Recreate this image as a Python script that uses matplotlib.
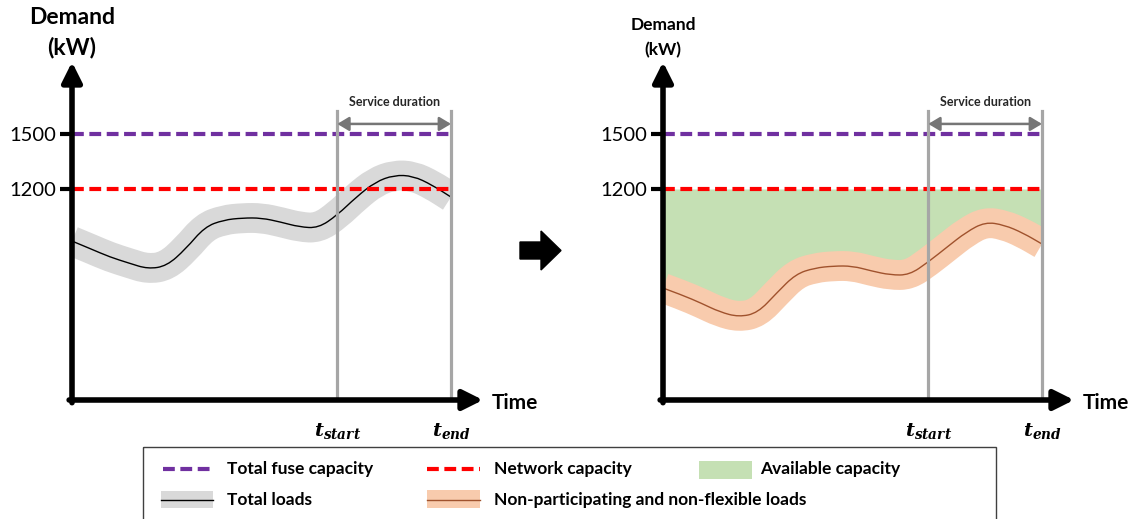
import numpy as np
import matplotlib as mpl
import matplotlib.pyplot as plt
from matplotlib.transforms import Affine2D
from matplotlib.lines import Line2D
from matplotlib.path import Path
from matplotlib.patches import Rectangle, FancyArrow, PathPatch

mpl.rcParams['font.family'] = ['Lato', 'DejaVu Sans']
mpl.rcParams['mathtext.fontset'] = 'custom'
mpl.rcParams['mathtext.it'] = 'DejaVu Serif:italic:bold'
mpl.rcParams['mathtext.rm'] = 'DejaVu Serif:bold'
mpl.rcParams['lines.scale_dashes'] = False

# ---- data ----
time = [0, 0.5, 1, 1.5, 2, 2.5, 3, 3.5, 4, 4.5, 5,
        5.5, 6, 6.5, 7, 7.5, 8, 8.5, 9, 9.5, 10]
total_loads = [916, 873, 829, 796, 764, 780, 873, 993, 1031, 1042, 1042,
               1020, 993, 987, 1058, 1156, 1238, 1276, 1271, 1222, 1156]
nonflex_loads = [660, 622, 578, 529, 502, 524, 633, 736, 769, 780, 780,
                 753, 731, 731, 802, 884, 965, 1020, 1004, 960, 900]
fuse_capacity = 1500
network_capacity = 1200
t_start, t_end = 7, 10
ytick_values = [1200, 1500]
xtick_labels = [r'$t_{start}$', r'$t_{end}$']

# colours
PURPLE = '#7030a0'
RED = '#ff0000'
GREEN = '#c5e0b4'
GREY_BAND = '#d9d9d9'
ORANGE_BAND = '#f8cbad'
BROWN = '#a0522d'
VGREY = '#a6a6a6'

W, H = 1136, 519
fig = plt.figure(figsize=(W / 100, H / 100), dpi=100)
# pixel coordinates, origin top-left
PX = Affine2D().scale(1 / 100, -1 / 100).translate(0, H / 100) + fig.dpi_scale_trans

# axis geometry (pixels): origin x, top tip y=62, bottom y=400
Y_LO = 1200 - (400 - 189) * 300 / 55
Y_HI = 1200 + (189 - 62) * 300 / 55
X_HI = 411 / 37.9


def smooth_path(x, y):
    # quadratic bezier through the read points (drawn by matplotlib)
    pts = np.column_stack([x, y]).astype(float)
    verts = [pts[0]]
    codes = [Path.MOVETO]
    for i in range(1, len(pts) - 1):
        verts += [pts[i], (pts[i] + pts[i + 1]) / 2]
        codes += [Path.CURVE3, Path.CURVE3]
    verts.append(pts[-1])
    codes.append(Path.LINETO)
    return Path(verts, codes)


def draw_panel(x0, load, band_color, line_color, available, dem_size, dem_y):
    ax = fig.add_axes([x0 / W, 1 - 400 / H, 411 / W, 338 / H])
    ax.set_xlim(0, X_HI)
    ax.set_ylim(Y_LO, Y_HI)
    for s in ax.spines.values():
        s.set_visible(False)
    ax.patch.set_alpha(0)

    ax.set_yticks(ytick_values)
    ax.set_yticklabels([str(v) for v in ytick_values], fontsize=14.5)
    ax.tick_params(axis='y', length=9, width=3, pad=2, color='black')
    ax.set_xticks([t_start, t_end])
    ax.set_xticklabels(xtick_labels, fontsize=14)
    ax.tick_params(axis='x', length=0, pad=15)

    if available:
        ax.fill_between(time, load, network_capacity, color=GREEN, lw=0)

    path = smooth_path(time, load)
    band = PathPatch(path, fill=False, edgecolor=band_color, lw=21.5,
                     capstyle='butt', joinstyle='round')
    ax.add_patch(band)
    band.set_clip_path(Rectangle((0, Y_LO), t_end, Y_HI - Y_LO,
                                 transform=ax.transData))
    ax.add_patch(PathPatch(path, fill=False, edgecolor=line_color, lw=1))

    ax.plot([0, t_end], [fuse_capacity] * 2, color=PURPLE, lw=3, dashes=(8.5, 4))
    ax.plot([0, t_end], [network_capacity] * 2, color=RED, lw=3, dashes=(8.5, 4))

    for tv in (t_start, t_end):
        ax.plot([tv, tv], [Y_LO, 1625], color=VGREY, lw=2.3)

    # service duration arrow
    ax.annotate('', xy=(t_end, 1555), xytext=(t_start, 1555),
                arrowprops=dict(arrowstyle='<|-|>,head_length=0.5,head_width=0.3',
                                color='#767676', lw=1.8, shrinkA=0, shrinkB=0,
                                mutation_scale=14))
    ax.text((t_start + t_end) / 2, 1675, 'Service duration', ha='center',
            va='center', fontsize=9, fontweight='bold', color='#262626')

    # axis arrows
    akw = dict(arrowstyle='-|>,head_length=0.6,head_width=0.3', color='black',
               lw=4, shrinkA=0, shrinkB=0, mutation_scale=20)
    ax.annotate('', xy=(1, 0), xytext=(-0.007, 0), xycoords='axes fraction',
                arrowprops=akw, annotation_clip=False)
    ax.annotate('', xy=(0, 1), xytext=(0, -0.008), xycoords='axes fraction',
                arrowprops=akw, annotation_clip=False)

    fig.text(x0, dem_y[0], 'Demand', transform=PX, ha='center', va='center',
             fontsize=dem_size, fontweight='bold')
    fig.text(x0, dem_y[1], '(kW)', transform=PX, ha='center', va='center',
             fontsize=dem_size, fontweight='bold')
    fig.text(x0 + 420, 403, 'Time', transform=PX, ha='left', va='center',
             fontsize=15, fontweight='bold')
    return ax


draw_panel(72, total_loads, GREY_BAND, 'black', False, 16.5, (18, 47))
draw_panel(663, nonflex_loads, ORANGE_BAND, BROWN, True, 12.5, (25, 50))

# block arrow between panels
fig.add_artist(FancyArrow(520, 250.5, 41, 0, width=17, head_width=39,
                          head_length=20, length_includes_head=True,
                          color='black', transform=PX))

# legend box
fig.add_artist(Rectangle((143, 447), 853, 80, transform=PX, fill=False,
                         edgecolor='#404040', lw=1))
fig.add_artist(Line2D([163, 213], [469, 469], transform=PX, color=PURPLE, lw=3,
                      dashes=(8.5, 4)))
fig.add_artist(Line2D([427, 480], [469, 469], transform=PX, color=RED, lw=3,
                      dashes=(8.5, 4)))
fig.add_artist(Rectangle((699, 461), 53, 18, transform=PX, color=GREEN, lw=0))
fig.add_artist(Rectangle((161, 491), 52, 17, transform=PX, color=GREY_BAND, lw=0))
fig.add_artist(Line2D([161, 213], [499.5, 499.5], transform=PX, color='black', lw=1))
fig.add_artist(Rectangle((427, 490), 53, 18, transform=PX, color=ORANGE_BAND, lw=0))
fig.add_artist(Line2D([427, 480], [499.5, 499.5], transform=PX, color=BROWN, lw=1))

legend_texts = [(227, 469, 'Total fuse capacity'),
                (494, 469, 'Network capacity'),
                (760, 469, 'Available capacity'),
                (227, 500, 'Total loads'),
                (494, 500, 'Non-participating and non-flexible loads')]
for lx, ly, s in legend_texts:
    fig.text(lx, ly, s, transform=PX, ha='left', va='center', fontsize=12.5,
             fontweight='bold')

fig.savefig('out.png', dpi=100)
